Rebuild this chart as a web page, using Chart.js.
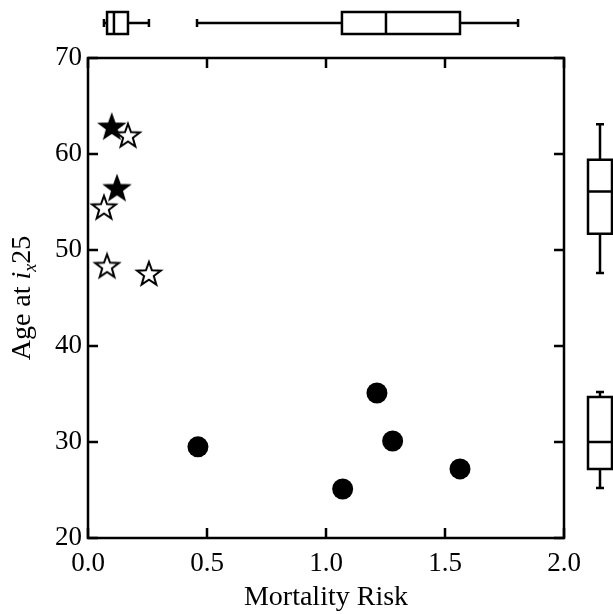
<!DOCTYPE html>
<html>
<head>
<meta charset="utf-8">
<script src="https://cdn.jsdelivr.net/npm/chart.js@4.4.1/dist/chart.umd.min.js"></script>
<style>
  html, body { margin: 0; padding: 0; background: #fff; }
  #wrap { width: 613px; height: 614px; }
</style>
</head>
<body>
<div id="wrap"><canvas id="scatter"></canvas></div>
<script>
// data
const filledStarX = [0.10, 0.122];
const filledStarY = [62.8, 56.4];
const openStarX = [0.168, 0.067, 0.08, 0.256];
const openStarY = [61.9, 54.4, 48.3, 47.5];
const circleX = [0.462, 1.07, 1.214, 1.28, 1.563];
const circleY = [29.5, 25.1, 35.1, 30.1, 27.2];

// box plots: [min, q1, median, q3, max]
const topBoxes = [
  [0.067, 0.08, 0.109, 0.168, 0.256],
  [0.458, 1.067, 1.252, 1.563, 1.807],
];
const rightBoxes = [
  [47.6, 51.7, 56.1, 59.4, 63.1],
  [25.2, 27.2, 30.0, 34.7, 35.2],
];

const xTicks = [0, 0.5, 1.0, 1.5, 2.0];
const yTicks = [20, 30, 40, 50, 60, 70];

const serif = "'Liberation Serif', 'DejaVu Serif', serif";

const toPoints = (xs, ys) => xs.map((x, i) => ({ x: x, y: ys[i] }));

function makeStar(filled) {
  const c = document.createElement("canvas");
  c.width = 30;
  c.height = 30;
  const g = c.getContext("2d");
  const R = 12.5, r = 5.1;
  g.beginPath();
  for (let i = 0; i < 10; i++) {
    const a = -Math.PI / 2 + (i * Math.PI) / 5;
    const rad = i % 2 === 0 ? R : r;
    const px = 15 + rad * Math.cos(a), py = 15.5 + rad * Math.sin(a);
    i === 0 ? g.moveTo(px, py) : g.lineTo(px, py);
  }
  g.closePath();
  g.fillStyle = filled ? "#000" : "#fff";
  g.fill();
  g.lineWidth = 2;
  g.strokeStyle = "#000";
  g.stroke();
  return c;
}

const frameAndBoxes = {
  id: "frameAndBoxes",
  afterDatasetsDraw(chart) {
    const { ctx, chartArea: a, scales } = chart;
    const x = scales.x, y = scales.y;
    ctx.save();
    ctx.strokeStyle = "#000";
    ctx.lineWidth = 2.5;
    ctx.strokeRect(a.left, a.top, a.right - a.left, a.bottom - a.top);

    // inward ticks on all four sides
    const tl = 10;
    ctx.beginPath();
    xTicks.forEach((v) => {
      const px = x.getPixelForValue(v);
      ctx.moveTo(px, a.bottom); ctx.lineTo(px, a.bottom - tl);
      ctx.moveTo(px, a.top); ctx.lineTo(px, a.top + tl);
    });
    yTicks.forEach((v) => {
      const py = y.getPixelForValue(v);
      ctx.moveTo(a.left, py); ctx.lineTo(a.left + tl, py);
      ctx.moveTo(a.right, py); ctx.lineTo(a.right - tl, py);
    });
    ctx.stroke();

    // horizontal boxes above the plot (x scale)
    const cy = 23, hh = 11, cap = 4;
    topBoxes.forEach((b) => {
      const p = b.map((v) => x.getPixelForValue(v));
      ctx.beginPath();
      ctx.moveTo(p[0], cy); ctx.lineTo(p[1], cy);
      ctx.moveTo(p[3], cy); ctx.lineTo(p[4], cy);
      ctx.moveTo(p[0], cy - cap); ctx.lineTo(p[0], cy + cap);
      ctx.moveTo(p[4], cy - cap); ctx.lineTo(p[4], cy + cap);
      ctx.moveTo(p[2], cy - hh); ctx.lineTo(p[2], cy + hh);
      ctx.rect(p[1], cy - hh, p[3] - p[1], 2 * hh);
      ctx.stroke();
    });

    // vertical boxes right of the plot (y scale)
    const cx = 600, hw = 12;
    rightBoxes.forEach((b) => {
      const p = b.map((v) => y.getPixelForValue(v));
      ctx.beginPath();
      ctx.moveTo(cx, p[0]); ctx.lineTo(cx, p[1]);
      ctx.moveTo(cx, p[3]); ctx.lineTo(cx, p[4]);
      ctx.moveTo(cx - cap, p[0]); ctx.lineTo(cx + cap, p[0]);
      ctx.moveTo(cx - cap, p[4]); ctx.lineTo(cx + cap, p[4]);
      ctx.moveTo(cx - hw, p[2]); ctx.lineTo(cx + hw, p[2]);
      ctx.rect(cx - hw, p[3], 2 * hw, p[1] - p[3]);
      ctx.stroke();
    });

    // y title with italic subscript
    const parts = [
      { t: "Age at ", f: "28px " + serif, dy: 0 },
      { t: "i", f: "italic 28px " + serif, dy: 0 },
      { t: "x", f: "italic 18px " + serif, dy: 6 },
      { t: "25", f: "28px " + serif, dy: 0 },
    ];
    let w = 0;
    parts.forEach((s) => { ctx.font = s.f; s.w = ctx.measureText(s.t).width; w += s.w; });
    ctx.translate(30, (a.top + a.bottom) / 2);
    ctx.rotate(-Math.PI / 2);
    ctx.fillStyle = "#000";
    ctx.textBaseline = "alphabetic";
    let ox = -w / 2;
    parts.forEach((s) => { ctx.font = s.f; ctx.fillText(s.t, ox, s.dy); ox += s.w; });
    ctx.restore();
  },
};

new Chart(document.getElementById("scatter"), {
  type: "scatter",
  data: {
    datasets: [
      {
        label: "circles",
        data: toPoints(circleX, circleY),
        pointStyle: "circle",
        pointRadius: 10.5,
        backgroundColor: "#000",
        borderColor: "#000",
        borderWidth: 0,
      },
      {
        label: "open stars",
        data: toPoints(openStarX, openStarY),
        pointStyle: makeStar(false),
      },
      {
        label: "filled stars",
        data: toPoints(filledStarX, filledStarY),
        pointStyle: makeStar(true),
      },
    ],
  },
  options: {
    responsive: true,
    maintainAspectRatio: false,
    animation: false,
    events: [],
    layout: { padding: { left: 0, right: 49, top: 58, bottom: 0 } },
    plugins: { legend: { display: false }, tooltip: { enabled: false } },
    scales: {
      x: {
        type: "linear",
        min: 0,
        max: 2,
        afterFit: (s) => { s.height = 76; },
        afterBuildTicks: (s) => { s.ticks = xTicks.map((v) => ({ value: v })); },
        grid: { display: false, drawTicks: false },
        border: { display: false },
        ticks: {
          color: "#000",
          font: { family: serif, size: 27 },
          padding: 10,
          maxRotation: 0,
          callback: (v) => v.toFixed(1),
        },
        title: {
          display: true,
          text: "Mortality Risk",
          color: "#000",
          font: { family: serif, size: 28 },
          padding: { top: 0, bottom: 0 },
        },
      },
      y: {
        type: "linear",
        min: 20,
        max: 70,
        afterFit: (s) => { s.width = 88; },
        afterBuildTicks: (s) => { s.ticks = yTicks.map((v) => ({ value: v })); },
        grid: { display: false, drawTicks: false },
        border: { display: false },
        ticks: {
          color: "#000",
          font: { family: serif, size: 27 },
          padding: 6,
        },
      },
    },
  },
  plugins: [frameAndBoxes],
});
</script>
</body>
</html>
